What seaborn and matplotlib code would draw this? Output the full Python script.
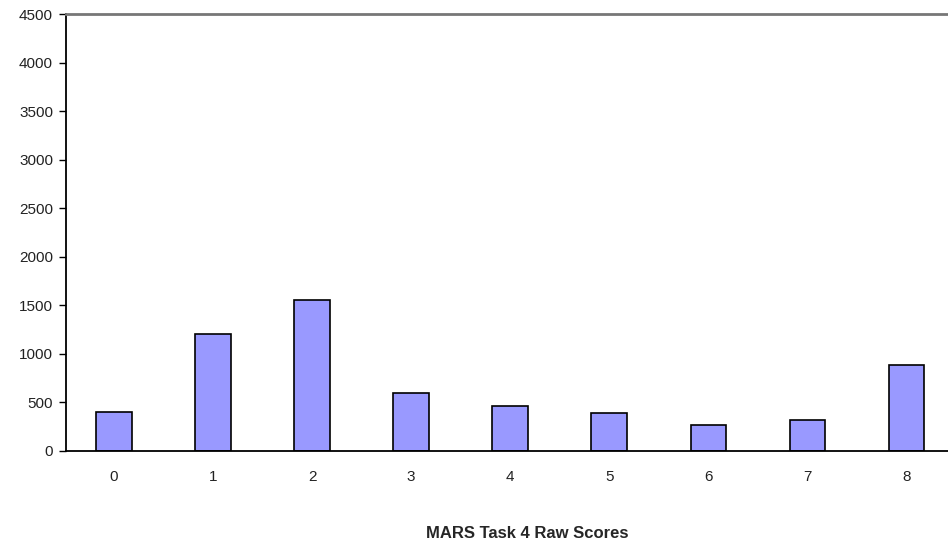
import matplotlib
matplotlib.use("Agg")
import matplotlib.pyplot as plt
import seaborn as sns
import pandas as pd

categories = ["0", "1", "2", "3", "4", "5", "6", "7", "8"]
counts = [404, 1202, 1559, 599, 462, 394, 270, 322, 884]
y_ticks = [0, 500, 1000, 1500, 2000, 2500, 3000, 3500, 4000, 4500]
x_label = "MARS Task 4 Raw Scores"

sns.set_style("white")
plt.rcParams['font.family'] = ['Liberation Sans', 'DejaVu Sans']

df = pd.DataFrame({"score": categories, "count": counts})

fig = plt.figure(figsize=(9.48, 5.44), dpi=100)
W, H = 948, 544
left_px, right_px, top_px, bottom_px = 65.5, 956, 14, 451
ax = fig.add_axes([left_px / W, 1 - bottom_px / H, (right_px - left_px) / W, (bottom_px - top_px) / H])

sns.barplot(data=df, x="score", y="count", color="#9999FF", saturation=1,
            width=0.36, edgecolor="#000000", linewidth=1.2, ax=ax)

ax.set_xlim(-0.49, 8.5)
ax.set_ylim(0, 4500)
ax.set_yticks(y_ticks)
ax.set_yticklabels([str(t) for t in y_ticks], fontsize=11, color="#222222")
ax.tick_params(axis="y", length=5, width=1, direction="out", color="#000000", pad=4, left=True)
ax.tick_params(axis="x", length=0, pad=14, labelsize=11, labelcolor="#222222")
ax.set_xlabel(x_label, fontsize=12, fontweight="bold")
ax.xaxis.label.set_va("center")
ax.xaxis.set_label_coords((527 - left_px) / (right_px - left_px), (bottom_px - 533) / (bottom_px - top_px))
ax.set_ylabel("")

for s in ["left", "bottom"]:
    ax.spines[s].set_visible(True)
    ax.spines[s].set_color("#000000")
    ax.spines[s].set_linewidth(1.3)
ax.spines["top"].set_visible(True)
ax.spines["top"].set_color("#777777")
ax.spines["top"].set_linewidth(2)
ax.spines["right"].set_visible(False)

fig.savefig("out.png", dpi=100, facecolor="white")
